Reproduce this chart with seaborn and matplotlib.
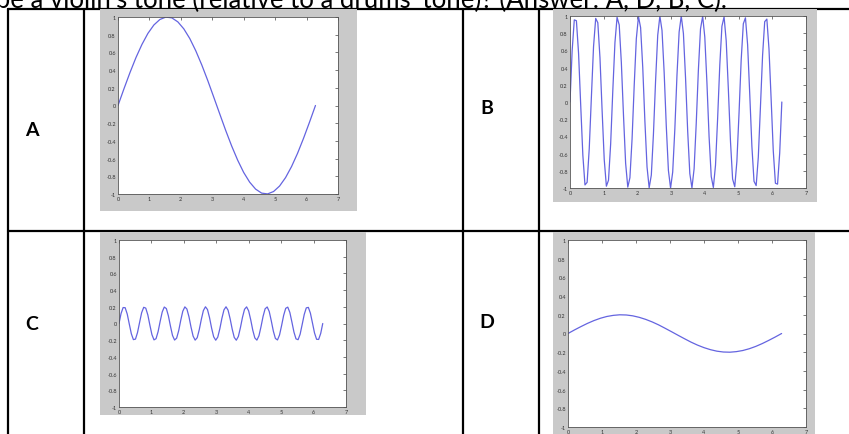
import matplotlib
matplotlib.use("Agg")
import matplotlib.pyplot as plt
import seaborn as sns
from matplotlib.lines import Line2D
from matplotlib.patches import Rectangle

# sample positions, fine grid for the fast waves
t_fine = [0.000, 0.063, 0.127, 0.190, 0.254, 0.317, 0.381, 0.444, 0.508, 0.571,
          0.635, 0.698, 0.762, 0.825, 0.889, 0.952, 1.015, 1.079, 1.142, 1.206,
          1.269, 1.333, 1.396, 1.460, 1.523, 1.587, 1.650, 1.714, 1.777, 1.841,
          1.904, 1.967, 2.031, 2.094, 2.158, 2.221, 2.285, 2.348, 2.412, 2.475,
          2.539, 2.602, 2.666, 2.729, 2.793, 2.856, 2.919, 2.983, 3.046, 3.110,
          3.173, 3.237, 3.300, 3.364, 3.427, 3.491, 3.554, 3.617, 3.681, 3.744,
          3.808, 3.871, 3.935, 3.998, 4.062, 4.125, 4.189, 4.252, 4.316, 4.379,
          4.443, 4.506, 4.570, 4.633, 4.696, 4.760, 4.823, 4.887, 4.950, 5.014,
          5.077, 5.141, 5.204, 5.268, 5.331, 5.395, 5.458, 5.522, 5.585, 5.648,
          5.712, 5.775, 5.839, 5.902, 5.966, 6.029, 6.093, 6.156, 6.220, 6.283]

t_coarse = [0.000, 0.190, 0.381, 0.571, 0.762, 0.952, 1.142, 1.333, 1.523, 1.714,
            1.904, 2.094, 2.285, 2.475, 2.666, 2.856, 3.046, 3.237, 3.427, 3.617,
            3.808, 3.998, 4.189, 4.379, 4.570, 4.760, 4.950, 5.141, 5.331, 5.522,
            5.712, 5.902, 6.093, 6.283]

wave_a = [0.000, 0.189, 0.372, 0.541, 0.690, 0.815, 0.910, 0.972, 0.999, 0.990,
          0.945, 0.866, 0.756, 0.618, 0.458, 0.282, 0.095, -0.095, -0.282, -0.458,
          -0.618, -0.756, -0.866, -0.945, -0.990, -0.999, -0.972, -0.910, -0.815, -0.690,
          -0.541, -0.372, -0.189, 0.000]

wave_b = [0.000, 0.593, 0.955, 0.945, 0.567, -0.032, -0.618, -0.964, -0.934, -0.541,
          0.063, 0.643, 0.972, 0.922, 0.514, -0.095, -0.667, -0.979, -0.910, -0.486,
          0.127, 0.690, 0.985, 0.896, 0.458, -0.158, -0.713, -0.990, -0.881, -0.430,
          0.189, 0.735, 0.994, 0.866, 0.401, -0.220, -0.756, -0.997, -0.850, -0.372,
          0.251, 0.776, 0.999, 0.833, 0.342, -0.282, -0.796, -1.000, -0.815, -0.312,
          0.312, 0.815, 1.000, 0.796, 0.282, -0.342, -0.833, -0.999, -0.776, -0.251,
          0.372, 0.850, 0.997, 0.756, 0.220, -0.401, -0.866, -0.994, -0.735, -0.189,
          0.430, 0.881, 0.990, 0.713, 0.158, -0.458, -0.896, -0.985, -0.690, -0.127,
          0.486, 0.910, 0.979, 0.667, 0.095, -0.514, -0.922, -0.972, -0.643, -0.063,
          0.541, 0.934, 0.964, 0.618, 0.032, -0.567, -0.945, -0.955, -0.593, 0.000]

wave_c = [0.000, 0.119, 0.191, 0.189, 0.113, -0.006, -0.124, -0.193, -0.187, -0.108,
          0.013, 0.129, 0.194, 0.184, 0.103, -0.019, -0.133, -0.196, -0.182, -0.097,
          0.025, 0.138, 0.197, 0.179, 0.092, -0.032, -0.143, -0.198, -0.176, -0.086,
          0.038, 0.147, 0.199, 0.173, 0.080, -0.044, -0.151, -0.199, -0.170, -0.074,
          0.050, 0.155, 0.200, 0.167, 0.068, -0.056, -0.159, -0.200, -0.163, -0.062,
          0.062, 0.163, 0.200, 0.159, 0.056, -0.068, -0.167, -0.200, -0.155, -0.050,
          0.074, 0.170, 0.199, 0.151, 0.044, -0.080, -0.173, -0.199, -0.147, -0.038,
          0.086, 0.176, 0.198, 0.143, 0.032, -0.092, -0.179, -0.197, -0.138, -0.025,
          0.097, 0.182, 0.196, 0.133, 0.019, -0.103, -0.184, -0.194, -0.129, -0.013,
          0.108, 0.187, 0.193, 0.124, 0.006, -0.113, -0.189, -0.191, -0.119, 0.000]

wave_d = [0.000, 0.038, 0.074, 0.108, 0.138, 0.163, 0.182, 0.194, 0.200, 0.198,
          0.189, 0.173, 0.151, 0.124, 0.092, 0.056, 0.019, -0.019, -0.056, -0.092,
          -0.124, -0.151, -0.173, -0.189, -0.198, -0.200, -0.194, -0.182, -0.163, -0.138,
          -0.108, -0.074, -0.038, 0.000]

x_ticks = [0, 1, 2, 3, 4, 5, 6, 7]
y_ticks = [-1, -0.8, -0.6, -0.4, -0.2, 0, 0.2, 0.4, 0.6, 0.8, 1]
y_tick_labels = ['-1', '-0.8', '-0.6', '-0.4', '-0.2', '0', '0.2', '0.4', '0.6', '0.8', '1']
letters = ['A', 'B', 'C', 'D']

W, H = 849, 435

def fx(px):
    return px / W

def fy(py):
    return 1 - py / H

sns.set_style("white")
plt.rcParams['font.family'] = ['Lato', 'DejaVu Sans']

fig = plt.figure(figsize=(W / 100, H / 100), dpi=100)
fig.patch.set_facecolor('white')

# question text, only its lower half shows at the top of the page
fig.text(fx(-20), fy(8.5), "ribe a violin's tone (relative to a drums' tone)? (Answer: A, D, B, C).",
         fontsize=18.5, va='baseline', ha='left', color='black')

# table grid
for y in [10, 232]:
    fig.add_artist(Line2D([fx(8), fx(849)], [fy(y), fy(y)], color='black', lw=1.6, zorder=1))
for x in [8, 84, 463, 539]:
    fig.add_artist(Line2D([fx(x), fx(x)], [fy(10), fy(436)], color='black', lw=1.6, zorder=1))

# grey screenshot panels (x0, y0, x1, y1) and the axes inside them
panels = [(100, 10, 357, 212), (553, 10, 817, 203), (100, 233, 366, 416), (553, 233, 815, 436)]
boxes = [(118, 18, 338, 195), (570, 17, 806, 189), (119, 241, 346, 408), (568, 241, 806, 428)]
letter_pos = [(32, 130), (487, 108), (32, 325), (487, 323)]
series = [(t_coarse, wave_a), (t_fine, wave_b), (t_fine, wave_c), (t_coarse, wave_d)]

for (x0, y0, x1, y1) in panels:
    fig.add_artist(Rectangle((fx(x0), fy(y1)), fx(x1) - fx(x0), fy(y0) - fy(y1),
                             transform=fig.transFigure, facecolor='#c9c9c9',
                             edgecolor='none', zorder=2))

for (bx0, by0, bx1, by1), (xs, ys) in zip(boxes, series):
    ax = fig.add_axes([fx(bx0), fy(by1), fx(bx1) - fx(bx0), fy(by0) - fy(by1)])
    ax.set_zorder(3)
    ax.set_facecolor('white')
    sns.lineplot(x=xs, y=ys, ax=ax, color='#6464e0', linewidth=0.9, estimator=None, sort=False)
    ax.set_xlim(0, 7)
    ax.set_ylim(-1, 1)
    ax.set_xticks(x_ticks)
    ax.set_yticks(y_ticks)
    ax.set_yticklabels(y_tick_labels)
    ax.tick_params(direction='in', top=True, right=True, length=2, width=0.5,
                   labelsize=4, pad=1.5, colors='#444444', labelcolor='#333333')
    for s in ax.spines.values():
        s.set_color('#555555')
        s.set_linewidth(0.6)
    ax.set_xlabel('')
    ax.set_ylabel('')

for (lx, ly), lab in zip(letter_pos, letters):
    fig.text(fx(lx), fy(ly), lab, fontsize=14, fontweight='bold', ha='center', va='center',
             color='black')

fig.savefig('out.png', dpi=100)
